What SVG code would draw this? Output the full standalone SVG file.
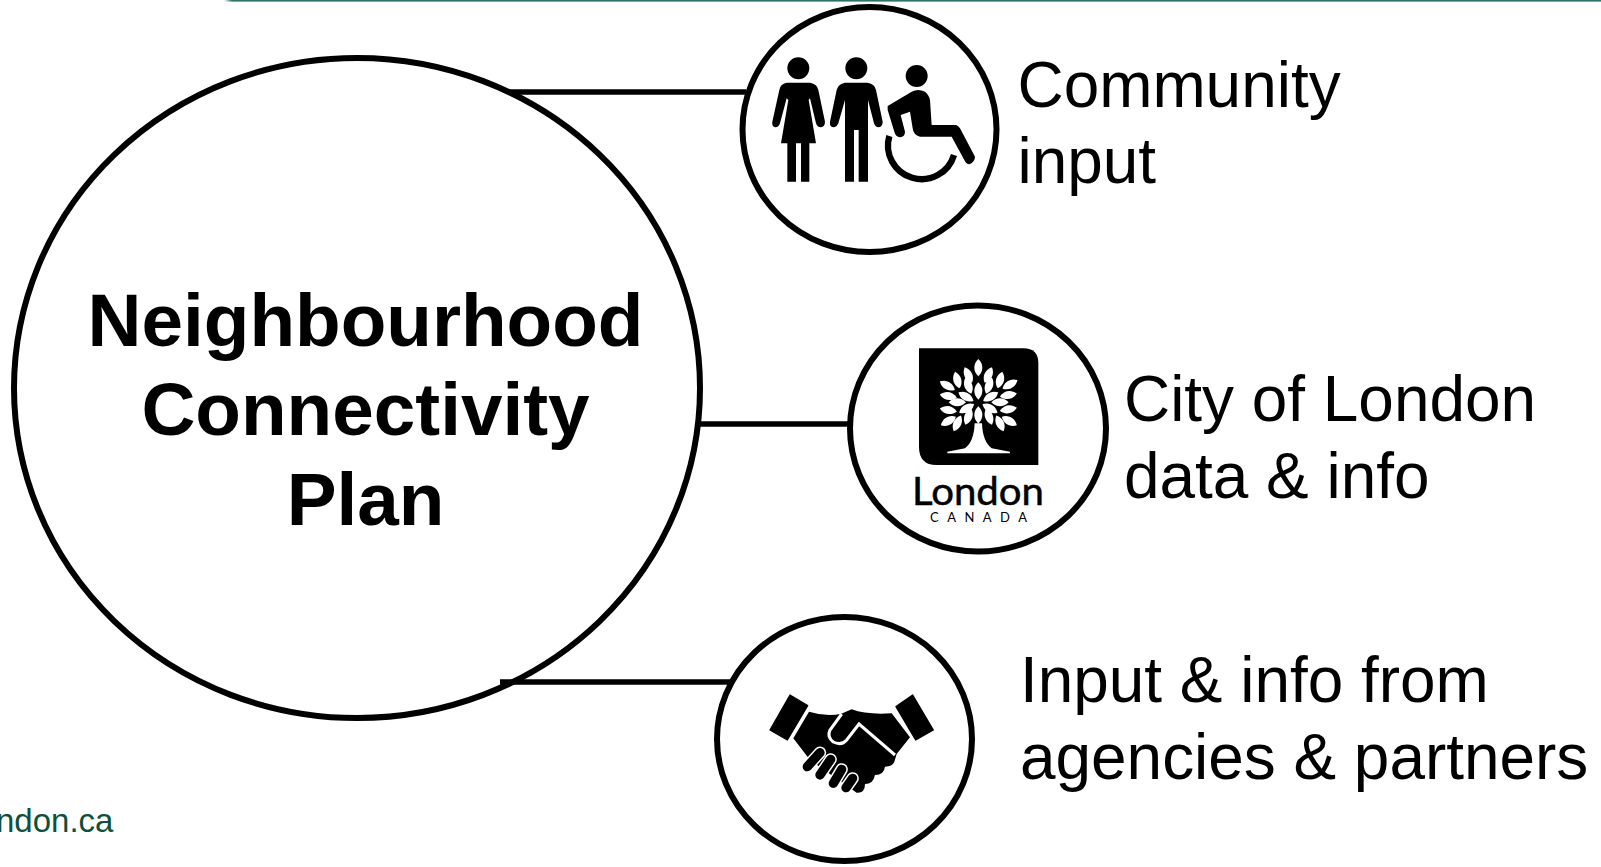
<svg xmlns="http://www.w3.org/2000/svg" width="1601" height="867" viewBox="0 0 1601 867">
<style>
.ring{fill:#fff;stroke:#000;stroke-width:6}
.conn{stroke:#000;stroke-width:5.5;fill:none}
.lab{font-family:"Liberation Sans",Arial,sans-serif;font-size:63.9px;fill:#000}
.title{font-family:"Liberation Sans",Arial,sans-serif;font-size:74.7px;font-weight:bold;fill:#000;text-anchor:middle}
.fing{fill:none;stroke-linecap:round}
</style>
<defs>
<path id="leaf" d="M0-26C16-11 16 11 0 26C-16 11-16-11 0-26Z" fill="#fff"/>
<linearGradient id="fade"><stop offset="0" stop-color="#2e7466" stop-opacity="0"/><stop offset="1" stop-color="#2e7466"/></linearGradient>
</defs>
<rect width="1601" height="867" fill="#fff"/>
<g id="header-line"><rect x="224" y="0" width="8" height="1.6" fill="url(#fade)"/><rect x="232" y="0" width="1369" height="1.6" fill="#2e7466"/></g>
<g id="hub">
<ellipse class="ring" cx="357" cy="388" rx="343" ry="330"/>
<text class="title" x="365.5" y="346">Neighbourhood</text>
<text class="title" x="365.5" y="435">Connectivity</text>
<text class="title" x="365.5" y="525">Plan</text>
</g>
<g id="connectors">
<path class="conn" d="M510 92H746"/>
<path class="conn" d="M698 424H852"/>
<path class="conn" d="M500 682H730"/>
</g>
<g id="community">
<ellipse class="ring" cx="869.5" cy="129.5" rx="127" ry="122.5"/>
<g transform="translate(730 0) scale(.33333)">
<circle cx="205" cy="205" r="33"/>
<path d="M170 248H240Q262 252 265 270L285 365Q285 380 272 382Q262 382 258 370L240 295L236 300L258 430H238V545H213V430H198V545H172V430H153L175 300L170 295L150 370Q146 382 136 382Q125 380 127 365L148 270Q150 252 170 248Z"/>
<circle cx="379" cy="205" r="33"/>
<path d="M345 248H413Q435 252 438 270L458 365Q458 380 446 382Q436 382 432 370L414 300V545H386V390H372V545H345V300L325 370Q320 382 310 382Q298 380 300 365L320 270Q324 252 345 248Z"/>
<circle cx="560" cy="228" r="33"/>
<path d="M473 318L545 275Q565 265 585 275Q597 285 600 300L605 375H678Q685 378 690 385L735 470Q735 485 718 493Q708 492 703 480L665 410H570Q550 405 548 385L540 335L512 345L525 395Q525 410 510 412Q497 410 493 395L473 330Z"/>
<path d="M478 408A98 98 0 0 0 672 465" fill="none" stroke="#000" stroke-width="19"/>
</g>
<text class="lab" x="1017.5" y="107">Community</text>
<text class="lab" x="1017.5" y="183">input</text>
</g>
<g id="city">
<ellipse class="ring" cx="978" cy="428.5" rx="128" ry="123"/>
<g transform="translate(840 295) scale(.33333)">
<path d="M237 160H550Q595 160 595 205V510H290Q237 510 237 455Z"/>
<use href="#leaf" transform="translate(415 218)"/>
<use href="#leaf" transform="translate(385 240) rotate(-25)"/>
<use href="#leaf" transform="translate(445 240) rotate(25)"/>
<use href="#leaf" transform="translate(352 255) rotate(-15)"/>
<use href="#leaf" transform="translate(480 255) rotate(15)"/>
<use href="#leaf" transform="translate(322 272) rotate(-60)"/>
<use href="#leaf" transform="translate(510 268) rotate(60)"/>
<use href="#leaf" transform="translate(385 272) rotate(-20)"/>
<use href="#leaf" transform="translate(447 272) rotate(20)"/>
<use href="#leaf" transform="translate(415 288)"/>
<use href="#leaf" transform="translate(325 303) rotate(-80)"/>
<use href="#leaf" transform="translate(505 300) rotate(80)"/>
<use href="#leaf" transform="translate(378 305) rotate(-60)"/>
<use href="#leaf" transform="translate(452 305) rotate(60)"/>
<use href="#leaf" transform="translate(352 322) rotate(90)"/>
<use href="#leaf" transform="translate(480 322) rotate(90)"/>
<use href="#leaf" transform="translate(325 345) rotate(100)"/>
<use href="#leaf" transform="translate(505 343) rotate(80)"/>
<use href="#leaf" transform="translate(380 340) rotate(60)"/>
<use href="#leaf" transform="translate(450 340) rotate(-60)"/>
<use href="#leaf" transform="translate(415 360)"/>
<use href="#leaf" transform="translate(325 378) rotate(60)"/>
<use href="#leaf" transform="translate(508 378) rotate(-60)"/>
<use href="#leaf" transform="translate(352 385) rotate(25)"/>
<use href="#leaf" transform="translate(480 385) rotate(-25)"/>
<use href="#leaf" transform="translate(385 365) rotate(20)"/>
<use href="#leaf" transform="translate(447 365) rotate(-20)"/>
<path d="M404 385L426 385Q428 440 455 460L510 470V475H322V470L375 460Q402 440 404 385Z" fill="#fff"/>
</g>
<text x="912" y="505" textLength="132" lengthAdjust="spacingAndGlyphs" font-family="Lato,sans-serif" font-size="38" fill="#000" stroke="#000" stroke-width=".5">London</text>
<text x="930" y="522" textLength="97" font-family="Lato,sans-serif" font-size="13" fill="#000">CANADA</text>
<text class="lab" x="1124" y="421">City of London</text>
<text class="lab" x="1124" y="498">data &amp; info</text>
</g>
<g id="partners">
<ellipse class="ring" cx="844.5" cy="739" rx="127.5" ry="122"/>
<g transform="translate(710 610) scale(.33333)">
<path d="M240 255L293 287L232 390L180 360Z" stroke="#000" stroke-width="4" stroke-linejoin="round"/>
<path d="M608 255L670 360L617 390L558 290Z" stroke="#000" stroke-width="4" stroke-linejoin="round"/>
<path d="M297 305Q345 320 392 312L425 298Q470 315 545 310L600 382L560 432L553 455Q548 470 525 470Q522 495 495 495Q490 522 465 522Q465 550 440 548L300 450L250 385Z"/>
<path d="M395 312L360 360Q350 380 370 396Q395 408 410 390L447 342L555 435" fill="none" stroke="#fff" stroke-width="9"/>
<g class="fing" stroke="#fff" stroke-width="37">
<path d="M330 428L292 470"/><path d="M362 448L330 495"/><path d="M395 478L370 520"/><path d="M428 505L408 533"/>
</g>
<g class="fing" stroke="#000" stroke-width="28">
<path d="M330 428L292 470"/><path d="M362 448L330 495"/><path d="M395 478L370 520"/><path d="M428 505L408 533"/>
</g>
</g>
<text class="lab" x="1020" y="702">Input &amp; info from</text>
<text class="lab" x="1020" y="778.5">agencies &amp; partners</text>
</g>
<g id="footer"><text x="-4" y="832" font-family="'Liberation Sans',Arial,sans-serif" font-size="33" fill="#0f4f3e">ndon.ca</text></g>
</svg>
